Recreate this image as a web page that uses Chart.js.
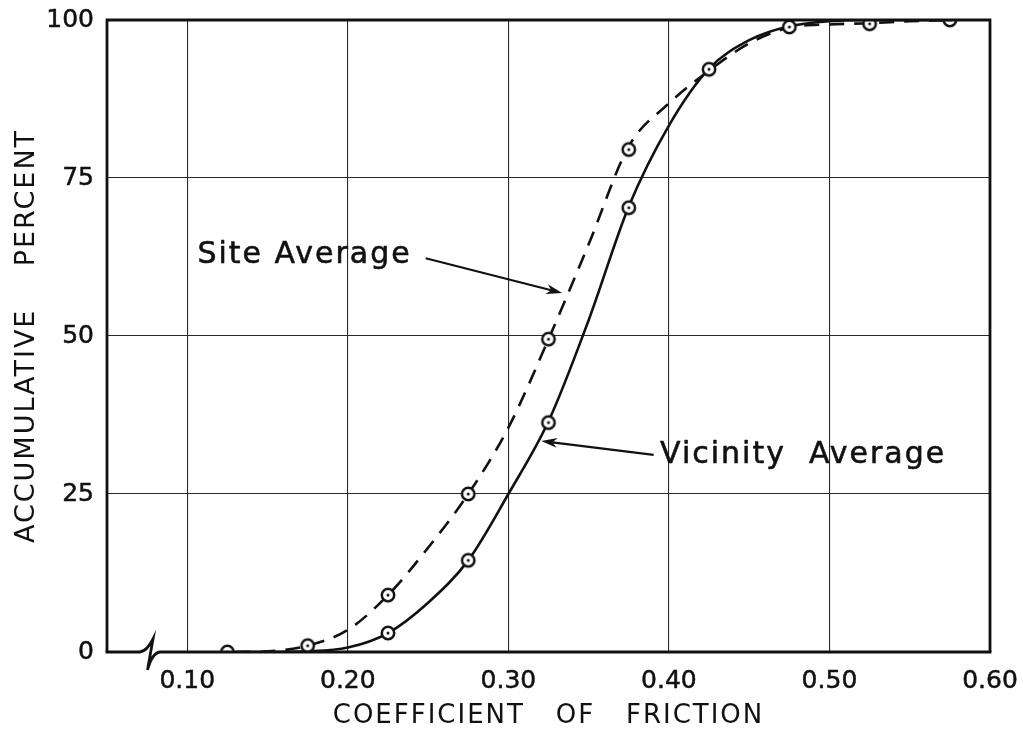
<!DOCTYPE html>
<html>
<head>
<meta charset="utf-8">
<title>Coefficient of Friction</title>
<script src="https://cdn.jsdelivr.net/npm/chart.js@4.4.1/dist/chart.umd.min.js"></script>
<style>
  html, body { margin: 0; padding: 0; background: #fff; }
  #wrap { width: 1023px; height: 729px; }
</style>
</head>
<body>
<div id="wrap"><canvas id="chart" width="1023" height="729"></canvas></div>
<script>
// ---- data ----
const xTicks = [0.10, 0.20, 0.30, 0.40, 0.50, 0.60];
const yTicks = [0, 25, 50, 75, 100];

// Smoothed cumulative curves
const curveX        = [0.13, 0.15, 0.175, 0.20, 0.225, 0.25, 0.275, 0.30, 0.325, 0.35, 0.375, 0.40, 0.425, 0.45, 0.475, 0.50, 0.525, 0.55, 0.575];
const siteCurve     = [0,    0.1,  1,     3.5,  9,     16.5, 25,    35.5, 49.5,  64.5, 80,    86.8, 92,    96.3, 98.8,  99.3, 99.5,  99.8, 100];
const vicinityCurve = [0,    0,    0.1,   0.7,  3,     7.8,  14.5,  25,   36.5,  52.5, 70.5,  83.3, 92.3,  96.8, 99,    99.8, 100,   100,  100];

// Observed points
const siteX     = [0.125, 0.175, 0.225, 0.275, 0.325, 0.375, 0.425, 0.475, 0.525, 0.575];
const siteY     = [0,     1,     9,     25,    49.5,  79.5,  92.2,  98.9,  99.4,  100];
const vicinityX = [0.225, 0.275, 0.325, 0.375];
const vicinityY = [3,     14.5,  36.3,  70.3];

const FONT = '"DejaVu Sans", "Liberation Sans", sans-serif';
const INK = '#111';

function zipXY(xs, ys) { return xs.map((x, i) => ({ x: x, y: ys[i] })); }

// circle-with-centre-dot marker
function ringMarker() {
  const c = document.createElement('canvas');
  c.width = 18; c.height = 18;
  const g = c.getContext('2d');
  g.beginPath(); g.arc(9, 9, 6.2, 0, Math.PI * 2);
  g.fillStyle = '#fff'; g.fill();
  g.lineWidth = 2.5; g.strokeStyle = INK; g.stroke();
  g.beginPath(); g.arc(9, 9, 1.5, 0, Math.PI * 2);
  g.fillStyle = INK; g.fill();
  return c;
}
const marker = ringMarker();

function arrow(ctx, x0, y0, x1, y1) {
  const a = Math.atan2(y1 - y0, x1 - x0);
  const len = 16, half = 5;
  ctx.beginPath();
  ctx.moveTo(x0, y0);
  ctx.lineTo(x1 - Math.cos(a) * len * 0.7, y1 - Math.sin(a) * len * 0.7);
  ctx.stroke();
  ctx.beginPath();
  ctx.moveTo(x1, y1);
  ctx.lineTo(x1 - Math.cos(a) * len - Math.sin(a) * half, y1 - Math.sin(a) * len + Math.cos(a) * half);
  ctx.lineTo(x1 - Math.cos(a) * len * 0.7, y1 - Math.sin(a) * len * 0.7);
  ctx.lineTo(x1 - Math.cos(a) * len + Math.sin(a) * half, y1 - Math.sin(a) * len - Math.cos(a) * half);
  ctx.closePath();
  ctx.fill();
}

function label(ctx, text, x, y) {
  ctx.fillText(text, x, y);
  ctx.strokeText(text, x, y);
}

// Frame, broken x-axis and curve labels
const decorations = {
  id: 'decorations',
  beforeDraw(chart) {
    // axis titles are lettered with wide spacing
    chart.ctx.letterSpacing = '2px';
  },
  beforeDatasetsDraw(chart) {
    chart.ctx.letterSpacing = '0px';
  },
  afterDraw(chart) {
    const ctx = chart.ctx;
    const { left, right, top, bottom } = chart.chartArea;
    const xs = chart.scales.x, ys = chart.scales.y;
    ctx.save();
    ctx.strokeStyle = INK;
    ctx.fillStyle = INK;
    ctx.lineCap = 'butt';
    ctx.lineJoin = 'miter';

    // left, top, right frame
    ctx.lineWidth = 2.8;
    ctx.beginPath();
    ctx.moveTo(left, bottom);
    ctx.lineTo(left, top);
    ctx.lineTo(right, top);
    ctx.lineTo(right, bottom);
    ctx.stroke();

    // x-axis with break symbol
    ctx.beginPath();
    ctx.moveTo(left - 1.4, bottom);
    ctx.lineTo(left + 33, bottom);
    ctx.quadraticCurveTo(left + 40, bottom - 1, left + 46, bottom - 13);
    ctx.lineTo(left + 40.5, bottom + 18);
    ctx.quadraticCurveTo(left + 45, bottom + 1, left + 53, bottom);
    ctx.lineTo(right + 1.4, bottom);
    ctx.stroke();

    // curve labels
    ctx.letterSpacing = '2px';
    ctx.font = '30px ' + FONT;
    ctx.textBaseline = 'middle';
    ctx.textAlign = 'left';
    ctx.lineWidth = 0.6;
    ctx.lineJoin = 'round';
    label(ctx, 'Site Average', xs.getPixelForValue(0.1063), ys.getPixelForValue(62.8));
    label(ctx, 'Vicinity  Average', xs.getPixelForValue(0.3945), ys.getPixelForValue(31.2));
    ctx.letterSpacing = '0px';
    ctx.lineJoin = 'miter';

    ctx.lineWidth = 2.2;
    arrow(ctx, xs.getPixelForValue(0.2485), ys.getPixelForValue(62.3),
               xs.getPixelForValue(0.3335), ys.getPixelForValue(56.8));
    arrow(ctx, xs.getPixelForValue(0.3905), ys.getPixelForValue(31.2),
               xs.getPixelForValue(0.3205), ys.getPixelForValue(33.4));
    ctx.restore();
  }
};

const tickFont = { family: FONT, size: 25 };

new Chart(document.getElementById('chart'), {
  type: 'scatter',
  data: {
    datasets: [
      {
        label: 'Site Average points',
        data: zipXY(siteX, siteY),
        pointStyle: marker,
        pointRadius: 7,
        showLine: false,
        clip: 0,
        order: 1
      },
      {
        label: 'Vicinity Average points',
        data: zipXY(vicinityX, vicinityY),
        pointStyle: marker,
        pointRadius: 7,
        showLine: false,
        clip: 0,
        order: 1
      },
      {
        label: 'Site Average',
        data: zipXY(curveX, siteCurve),
        showLine: true,
        borderColor: INK,
        borderWidth: 2.6,
        borderDash: [15, 10],
        cubicInterpolationMode: 'monotone',
        pointRadius: 0,
        clip: 0,
        order: 2
      },
      {
        label: 'Vicinity Average',
        data: zipXY(curveX, vicinityCurve),
        showLine: true,
        borderColor: INK,
        borderWidth: 2.6,
        cubicInterpolationMode: 'monotone',
        pointRadius: 0,
        clip: 0,
        order: 2
      }
    ]
  },
  options: {
    responsive: false,
    animation: false,
    devicePixelRatio: 1,
    layout: { padding: { top: 20, right: 33, left: 0, bottom: 0 } },
    plugins: {
      legend: { display: false },
      tooltip: { enabled: false }
    },
    scales: {
      x: {
        type: 'linear',
        min: 0.05,
        max: 0.60,
        afterBuildTicks(scale) { scale.ticks = xTicks.map(v => ({ value: v })); },
        afterFit(scale) {
          scale.height = 77;
          scale.paddingLeft = 0;
          scale.paddingRight = 0;
        },
        ticks: {
          color: INK,
          font: tickFont,
          padding: 14,
          maxRotation: 0,
          textStrokeColor: INK,
          textStrokeWidth: 0.5,
          callback: v => v.toFixed(2),
          z: 1
        },
        grid: { color: '#2a2a2a', lineWidth: 1.1, drawTicks: false },
        border: { display: false },
        title: {
          display: true,
          text: 'COEFFICIENT   OF   FRICTION',
          color: INK,
          font: { family: FONT, size: 26, lineHeight: 1 },
          padding: { top: 0, bottom: 0 }
        }
      },
      y: {
        min: 0,
        max: 100,
        afterBuildTicks(scale) { scale.ticks = yTicks.map(v => ({ value: v })); },
        afterFit(scale) {
          scale.width = 107;
          scale.paddingTop = 0;
          scale.paddingBottom = 0;
        },
        ticks: {
          color: INK,
          font: tickFont,
          padding: 13,
          textStrokeColor: INK,
          textStrokeWidth: 0.5,
          z: 1
        },
        grid: {
          color: c => (c.tick && c.tick.value === 0) ? 'rgba(0,0,0,0)' : '#2a2a2a',
          lineWidth: 1.1,
          drawTicks: false
        },
        border: { display: false },
        title: {
          display: true,
          text: 'ACCUMULATIVE    PERCENT',
          color: INK,
          font: { family: FONT, size: 27, lineHeight: 1 },
          padding: { top: 13, bottom: 0 }
        }
      }
    }
  },
  plugins: [decorations]
});
</script>
</body>
</html>
